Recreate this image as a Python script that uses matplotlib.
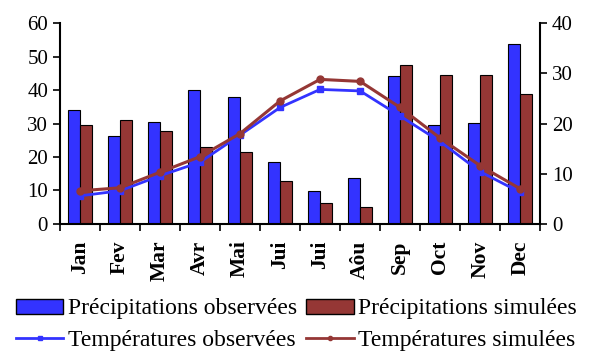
import numpy as np
import matplotlib.pyplot as plt
from matplotlib.patches import Patch
from matplotlib.lines import Line2D

months = ["Jan", "Fev", "Mar", "Avr", "Mai", "Jui", "Jui", "Aôu",
          "Sep", "Oct", "Nov", "Dec"]
precip_obs = [34.0, 26.3, 30.4, 39.9, 38.0, 18.6, 9.9, 13.8, 44.1, 29.6, 30.1, 53.8]
precip_sim = [29.6, 31.0, 27.8, 22.9, 21.4, 12.8, 6.4, 5.0, 47.4, 44.4, 44.4, 38.9]
temp_obs = [5.6, 6.6, 9.6, 12.3, 17.7, 23.2, 26.8, 26.5, 21.5, 16.4, 10.4, 6.3]
temp_sim = [6.6, 7.2, 10.3, 13.4, 18.0, 24.5, 28.8, 28.4, 23.2, 17.1, 11.6, 7.0]

blue = "#3333ff"
red = "#953735"
plt.rcParams['font.family'] = ['Liberation Serif', 'DejaVu Serif']

fig = plt.figure(figsize=(5.93, 3.51), dpi=100)
ax = fig.add_axes([0.101, 0.362, 0.81, 0.572])
ax2 = ax.twinx()

x = np.arange(len(months))
w = 0.3
ax.bar(x - w / 2, precip_obs, w, color=blue, edgecolor="black", linewidth=0.8, zorder=2)
ax.bar(x + w / 2, precip_sim, w, color=red, edgecolor="black", linewidth=0.8, zorder=2)

ax2.plot(x, temp_obs, color=blue, marker="s", markersize=5, linewidth=2, zorder=3)
ax2.plot(x, temp_sim, color=red, marker="o", markersize=5, linewidth=2.2, zorder=4)

ax.set_xlim(-0.5, len(months) - 0.5)
ax.set_ylim(0, 60)
ax2.set_ylim(0, 40)
ax.set_yticks(range(0, 61, 10))
ax2.set_yticks(range(0, 41, 10))

# category boundaries carry the ticks, labels sit at the centres
ax.set_xticks(np.arange(-0.5, len(months), 1))
ax.set_xticklabels([])
ax.set_xticks(x, minor=True)
ax.set_xticklabels(months, minor=True, rotation=90, fontweight="bold", fontsize=15.5)
ax.tick_params(axis="x", which="minor", length=0, pad=12)
ax.tick_params(axis="x", which="major", direction="out", length=5, width=1.2)
ax.tick_params(axis="y", direction="out", length=5, width=1.2, labelsize=15)
ax2.tick_params(axis="y", direction="out", length=5, width=1.2, labelsize=15)

for a in (ax, ax2):
    a.spines["top"].set_visible(False)
ax.spines["right"].set_visible(False)
ax.spines["left"].set_linewidth(1.5)
ax.spines["bottom"].set_linewidth(1.5)
ax2.spines["right"].set_linewidth(1.5)
ax2.spines["left"].set_visible(False)
ax2.spines["bottom"].set_visible(False)

handles = [
    Patch(facecolor=blue, edgecolor="black", label="Précipitations observées"),
    Line2D([], [], color=blue, marker="s", markersize=3, linewidth=2, label="Températures observées"),
    Patch(facecolor=red, edgecolor="black", label="Précipitations simulées"),
    Line2D([], [], color=red, marker="o", markersize=3, linewidth=2, label="Températures simulées"),
]
fig.legend(handles=handles, ncol=2, loc="center", bbox_to_anchor=(0.5, 0.075),
           frameon=False, fontsize=17, handlelength=2.0, handleheight=0.6,
           handletextpad=0.2, columnspacing=0.4, labelspacing=0.45)

fig.savefig("out.png", dpi=100)
